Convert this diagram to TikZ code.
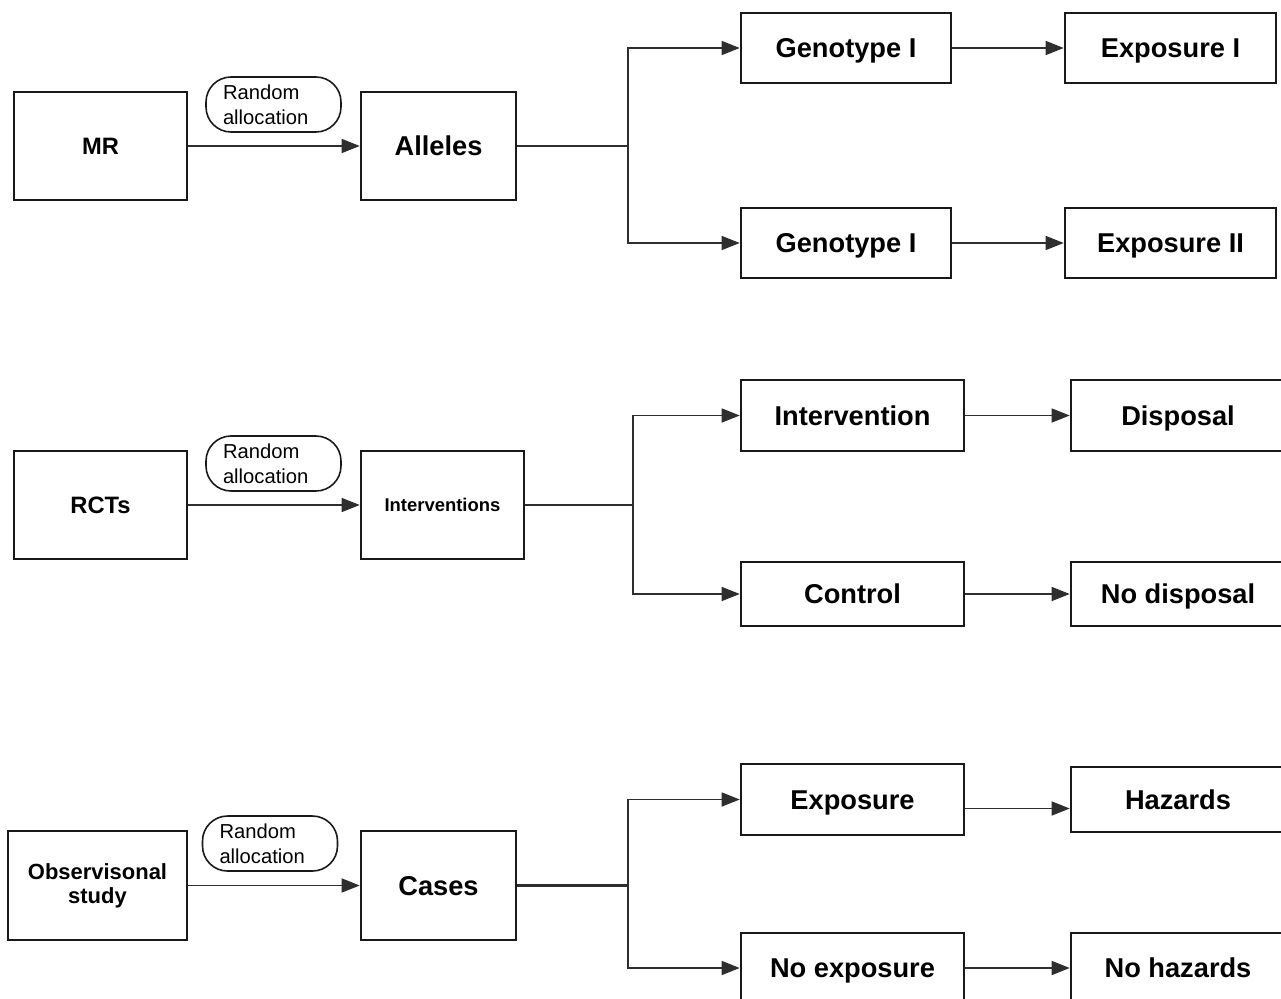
\documentclass[tikz,border=0pt]{standalone}
\usepackage{fontspec}
\setmainfont{Liberation Sans}
\usetikzlibrary{arrows.meta}
\definecolor{inkgray}{HTML}{2E2E2E}
\begin{document}
\begin{tikzpicture}[x=0.02cm,y=-0.02cm,
  box/.style={draw=black!90,line width=1.5pt,inner sep=0pt,text height=11.1pt,text depth=0pt,font=\bfseries\fontsize{15.5}{17}\selectfont},
  smallbox/.style={box,text height=9.7pt,font=\bfseries\fontsize{13.5}{15}\selectfont},
  twoline/.style={text height=,text depth=,align=center},
  pill/.style={draw=black!90,line width=0.9pt,rounded corners=0.5cm,minimum height=1.1cm,text width=2.02cm,inner xsep=0.34cm,inner ysep=0pt,align=left,font=\fontsize{11.5}{14.2}\selectfont},
  arr/.style={draw=inkgray,line width=0.85pt,-{Triangle[length=0.36cm,width=0.28cm]}},
  branch/.style={draw=inkgray,line width=1.3pt}]
\useasboundingbox (0,0) rectangle (1281,998);
\fill[white] (0,0) rectangle (1281,998);
% MR row
\node[smallbox,minimum width=3.46cm,minimum height=2.16cm] (mr) at (100.5,146) {MR};
\node[pill] (ra1) at (273.5,104.5) {Random\\allocation};
\node[box,minimum width=3.1cm,minimum height=2.16cm] (alleles) at (438.5,146) {Alleles};
\node[box,minimum width=4.2cm,minimum height=1.4cm] (geno1) at (846,48) {Genotype I};
\node[box,minimum width=4.22cm,minimum height=1.4cm] (expo1) at (1170.5,48) {Exposure I};
\node[box,minimum width=4.2cm,minimum height=1.4cm] (geno2) at (846,243) {Genotype I};
\node[box,minimum width=4.22cm,minimum height=1.4cm] (expo2) at (1170.5,243) {Exposure II};
\coordinate (j1) at (628,146);
\draw[arr] (mr) -- (alleles);
\draw[branch] (alleles) -- (j1);
\draw[arr] (j1) |- (geno1);
\draw[arr] (j1) |- (geno2);
\draw[arr] (geno1) -- (expo1);
\draw[arr] (geno2) -- (expo2);
% RCT row
\node[smallbox,minimum width=3.46cm,minimum height=2.16cm] (rct) at (100.5,505) {RCTs};
\node[pill] (ra2) at (273.5,463.5) {Random\\allocation};
\node[box,minimum width=3.26cm,minimum height=2.16cm,text height=7.5pt,font=\bfseries\fontsize{10.5}{12}\selectfont] (interv) at (442.5,505) {Interventions};
\node[box,minimum width=4.46cm,minimum height=1.42cm] (inter) at (852.5,415.5) {Intervention};
\node[box,minimum width=4.28cm,minimum height=1.42cm] (disp) at (1178,415.5) {Disposal};
\node[box,minimum width=4.46cm,minimum height=1.28cm] (ctrl) at (852.5,594) {Control};
\node[box,minimum width=4.28cm,minimum height=1.28cm] (nodisp) at (1178,594) {No disposal};
\coordinate (j2) at (633,505);
\draw[arr] (rct) -- (interv);
\draw[branch] (interv) -- (j2);
\draw[arr] (j2) |- (inter);
\draw[arr] (j2) |- (ctrl);
\draw[arr] (inter) -- (disp);
\draw[arr] (ctrl) -- (nodisp);
% observational row
\node[box,twoline,minimum width=3.58cm,minimum height=2.18cm,font=\bfseries\fontsize{12.5}{13.6}\selectfont] (obs) at (97.5,885.5) {Observisonal\\study};
\node[pill] (ra3) at (270,843.5) {Random\\allocation};
\node[box,minimum width=3.1cm,minimum height=2.18cm] (cases) at (438.5,885.5) {Cases};
\node[box,minimum width=4.46cm,minimum height=1.42cm] (expo) at (852.5,799.5) {Exposure};
\node[box,minimum width=4.28cm,minimum height=1.3cm] (haz) at (1178,799.5) {Hazards};
\node[box,minimum width=4.46cm,minimum height=1.4cm] (noexpo) at (852.5,968) {No exposure};
\node[box,minimum width=4.28cm,minimum height=1.4cm] (nohaz) at (1178,968) {No hazards};
\coordinate (j3) at (628,885.5);
\draw[arr] (obs) -- (cases);
\draw[branch] (cases) -- (j3);
\draw[arr] (j3) |- (expo);
\draw[arr] (j3) |- (noexpo);
\draw[arr] ([yshift=-0.18cm]expo.east) -- ([yshift=-0.18cm]haz.west);
\draw[arr] (noexpo) -- (nohaz);
\end{tikzpicture}
\end{document}
